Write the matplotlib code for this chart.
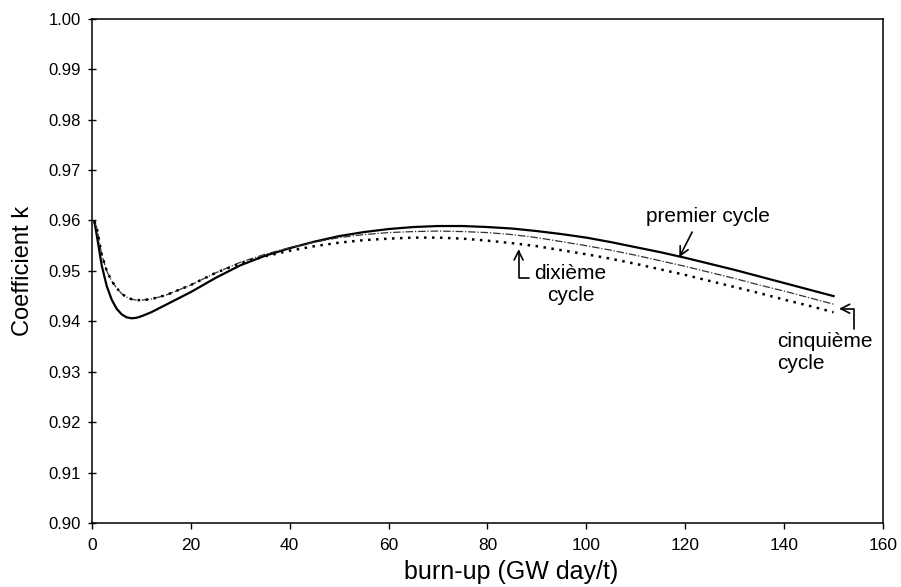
import matplotlib.pyplot as plt

plt.rcParams['font.family'] = ['Liberation Sans', 'DejaVu Sans']

# burn-up (GW day/t)
burnup = [0.5, 1, 1.5, 2, 3, 4, 5, 6, 7, 8, 9, 10, 12, 15, 20, 25, 30, 35, 40, 45, 50,
          55, 60, 65, 70, 75, 80, 85, 90, 95, 100, 105, 110, 115, 120, 125, 130,
          135, 140, 145, 150]

# coefficient k, premier cycle
k_premier = [0.9598, 0.9570, 0.9540, 0.9510, 0.9470, 0.9443, 0.9425, 0.9414, 0.9408,
             0.9406, 0.9407, 0.9410, 0.9418, 0.9433, 0.9458, 0.9486, 0.9511, 0.9530,
             0.9545, 0.9558, 0.9569, 0.9577, 0.9583, 0.9587, 0.9589, 0.9589, 0.9587,
             0.9584, 0.9579, 0.9573, 0.9566, 0.9557, 0.9547, 0.9537, 0.9526, 0.9514,
             0.9502, 0.9489, 0.9476, 0.9463, 0.9450]

# coefficient k, cinquieme cycle
k_cinquieme = [0.9598, 0.9585, 0.9558, 0.9532, 0.9500, 0.9480, 0.9466, 0.9455, 0.9448,
               0.9444, 0.9442, 0.9442, 0.9444, 0.9452, 0.9472, 0.9496, 0.9517, 0.9533,
               0.9546, 0.9557, 0.9566, 0.9572, 0.9576, 0.9578, 0.9579, 0.9578, 0.9576,
               0.9572, 0.9566, 0.9558, 0.9550, 0.9541, 0.9531, 0.9520, 0.9509, 0.9497,
               0.9485, 0.9472, 0.9460, 0.9447, 0.9434]

# coefficient k, dixieme cycle
k_dixieme = [0.9598, 0.9585, 0.9558, 0.9532, 0.9500, 0.9480, 0.9466, 0.9455, 0.9448,
             0.9444, 0.9442, 0.9442, 0.9444, 0.9452, 0.9472, 0.9496, 0.9515, 0.9529,
             0.9540, 0.9549, 0.9556, 0.9561, 0.9564, 0.9566, 0.9566, 0.9564, 0.9560,
             0.9555, 0.9549, 0.9541, 0.9533, 0.9524, 0.9514, 0.9503, 0.9492, 0.9480,
             0.9468, 0.9456, 0.9443, 0.9431, 0.9418]

fig = plt.figure(figsize=(9.01, 5.87), dpi=100)
ax = fig.add_axes([0.102, 0.109, 0.878, 0.859])

ax.plot(burnup, k_premier, color='black', lw=1.6, ls='-')
ax.plot(burnup, k_cinquieme, color='#333333', lw=0.9, ls=(0, (6, 1.5, 1, 1.5)))
ax.plot(burnup, k_dixieme, color='black', lw=1.8, ls=(0, (1, 2.2)))

ax.set_xlim(0, 160)
ax.set_ylim(0.90, 1.00)
ax.set_xticks([0, 20, 40, 60, 80, 100, 120, 140, 160])
ax.set_yticks([0.90 + 0.01 * i for i in range(11)])
ax.yaxis.set_major_formatter(plt.FormatStrFormatter('%.2f'))
ax.tick_params(axis='y', direction='inout', length=6, width=1, labelsize=12, pad=5)
ax.tick_params(axis='x', direction='out', length=4, width=1, labelsize=12.5, pad=7)
for s in ax.spines.values():
    s.set_linewidth(1.1)

ax.set_xlabel('burn-up (GW day/t)', fontsize=18, labelpad=5)
ax.xaxis.label.set_x(0.53)
ax.set_ylabel('Coefficient k', fontsize=17, labelpad=10)

# labels and arrows
ax.text(112.1, 0.9608, 'premier cycle', fontsize=15, ha='left', va='center')
ax.annotate('', xy=(118.8, 0.9527), xytext=(121.4, 0.9577),
            arrowprops=dict(arrowstyle='->', lw=1.2, shrinkA=0, shrinkB=0,
                            mutation_scale=16))

ax.text(96.8, 0.9474, 'dixième\ncycle', fontsize=15, ha='center', va='center',
        linespacing=1.2)
ax.annotate('', xy=(86.3, 0.9543), xytext=(88.5, 0.9485),
            arrowprops=dict(arrowstyle='->', lw=1.2, shrinkA=0, shrinkB=0,
                            mutation_scale=16,
                            connectionstyle='angle,angleA=0,angleB=90,rad=0'))

ax.text(138.6, 0.9338, 'cinquième\ncycle', fontsize=15, ha='left', va='center',
        linespacing=1.15)
ax.annotate('', xy=(151.1, 0.9425), xytext=(154.1, 0.9384),
            arrowprops=dict(arrowstyle='->', lw=1.2, shrinkA=0, shrinkB=0,
                            mutation_scale=16,
                            connectionstyle='angle,angleA=90,angleB=0,rad=0'))

plt.savefig('out.png', dpi=100)
